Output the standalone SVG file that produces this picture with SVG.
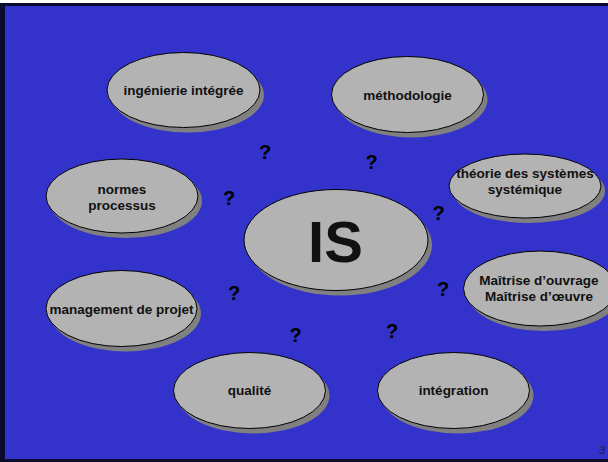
<svg xmlns="http://www.w3.org/2000/svg" width="608" height="462" viewBox="0 0 608 462">
  <style>
    .bubble { fill: #b3b3b3; stroke: #000; stroke-width: 1; }
    .shadow { fill: #808080; }
    .label { font-family: "Liberation Sans", Arial, sans-serif; font-weight: bold; font-size: 13.5px; fill: #111; text-anchor: middle; }
    .q { font-family: "Liberation Sans", Arial, sans-serif; font-weight: bold; font-size: 20px; fill: #000; text-anchor: middle; }
  </style>

  <!-- slide frame -->
  <rect x="0" y="0" width="608" height="462" fill="#ffffff"/>
  <rect x="0" y="3" width="608" height="459" fill="#0b0b2e"/>
  <rect x="5" y="6" width="603" height="453" fill="#3333cc"/>

  <!-- connectors: none drawn, relations shown by question marks -->
  <g id="connectors"></g>

  <g id="n-ingenierie">
    <ellipse class="shadow" cx="187.5" cy="95" rx="76.5" ry="37.5"/>
    <ellipse class="bubble" cx="183.5" cy="90" rx="76.5" ry="37.5"/>
    <text class="label" x="183.5" y="95">ingénierie intégrée</text>
  </g>

  <g id="n-methodologie">
    <ellipse class="shadow" cx="411.5" cy="99.5" rx="76" ry="38"/>
    <ellipse class="bubble" cx="407.5" cy="94.5" rx="76" ry="38"/>
    <text class="label" x="407.5" y="100">méthodologie</text>
  </g>

  <g id="n-theorie">
    <ellipse class="shadow" cx="529" cy="191" rx="76" ry="32"/>
    <ellipse class="bubble" cx="525" cy="186" rx="76" ry="32"/>
    <text class="label" x="525" y="177.5">théorie des systèmes</text>
    <text class="label" x="525" y="194">systémique</text>
  </g>

  <g id="n-normes">
    <ellipse class="shadow" cx="126" cy="201" rx="76" ry="37"/>
    <ellipse class="bubble" cx="122" cy="196" rx="76" ry="37"/>
    <text class="label" x="122" y="194">normes</text>
    <text class="label" x="122" y="210">processus</text>
  </g>

  <g id="n-is">
    <ellipse class="shadow" cx="340" cy="245" rx="92" ry="50.5"/>
    <ellipse class="bubble" cx="336" cy="240" rx="92" ry="50.5"/>
    <text class="label" x="335.5" y="261.5" style="font-size:58px">IS</text>
  </g>

  <g id="n-maitrise">
    <ellipse class="shadow" cx="544" cy="293.5" rx="76.5" ry="37.5"/>
    <ellipse class="bubble" cx="540" cy="288.5" rx="76.5" ry="37.5"/>
    <text class="label" x="539" y="285">Maîtrise d’ouvrage</text>
    <text class="label" x="539" y="300.5">Maîtrise d’œuvre</text>
  </g>

  <g id="n-management">
    <ellipse class="shadow" cx="125.5" cy="313.5" rx="75.5" ry="38"/>
    <ellipse class="bubble" cx="121.5" cy="308.5" rx="75.5" ry="38"/>
    <text class="label" x="121.5" y="314">management de projet</text>
  </g>

  <g id="n-qualite">
    <ellipse class="shadow" cx="253.5" cy="395.5" rx="76" ry="38"/>
    <ellipse class="bubble" cx="249.5" cy="390.5" rx="76" ry="38"/>
    <text class="label" x="249.5" y="395">qualité</text>
  </g>

  <g id="n-integration">
    <ellipse class="shadow" cx="457.5" cy="395.5" rx="76" ry="38"/>
    <ellipse class="bubble" cx="453.5" cy="390.5" rx="76" ry="38"/>
    <text class="label" x="453.5" y="395">intégration</text>
  </g>

  <!-- question marks around the central bubble -->
  <g id="questions">
    <text class="q" x="265" y="159">?</text>
    <text class="q" x="371.5" y="169">?</text>
    <text class="q" x="229" y="205">?</text>
    <text class="q" x="438.5" y="219.5">?</text>
    <text class="q" x="234" y="300">?</text>
    <text class="q" x="443" y="296">?</text>
    <text class="q" x="295.5" y="342">?</text>
    <text class="q" x="392" y="337.5">?</text>
  </g>

  <!-- page number -->
  <text x="605" y="454" style="font-family:'Liberation Sans',Arial,sans-serif;font-size:11px;font-style:italic;fill:#222;text-anchor:end">3</text>
</svg>
